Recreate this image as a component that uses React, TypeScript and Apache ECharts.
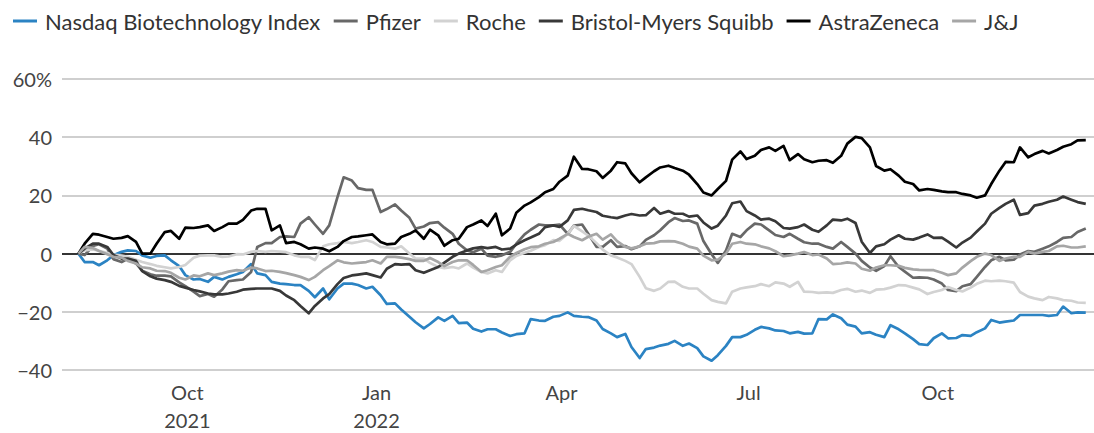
import React, { useEffect, useRef } from "react";
import * as echarts from "echarts";

// Weekly readings: Mondays, plus a mid-week reading on Thursdays
const mondays = [
  "2021-08-09", "2021-08-16", "2021-08-23", "2021-08-30", "2021-09-06", "2021-09-13", "2021-09-20", "2021-09-27",
  "2021-10-04", "2021-10-11", "2021-10-18", "2021-10-25", "2021-11-01", "2021-11-08", "2021-11-15", "2021-11-22",
  "2021-11-29", "2021-12-06", "2021-12-13", "2021-12-20", "2021-12-27", "2022-01-03", "2022-01-10", "2022-01-17",
  "2022-01-24", "2022-01-31", "2022-02-07", "2022-02-14", "2022-02-21", "2022-02-28", "2022-03-07", "2022-03-14",
  "2022-03-21", "2022-03-28", "2022-04-04", "2022-04-11", "2022-04-18", "2022-04-25", "2022-05-02", "2022-05-09",
  "2022-05-16", "2022-05-23", "2022-05-30", "2022-06-06", "2022-06-13", "2022-06-20", "2022-06-27", "2022-07-04",
  "2022-07-11", "2022-07-18", "2022-07-25", "2022-08-01", "2022-08-08", "2022-08-15", "2022-08-22", "2022-08-29",
  "2022-09-05", "2022-09-12", "2022-09-19", "2022-09-26", "2022-10-03", "2022-10-10", "2022-10-17", "2022-10-24",
  "2022-10-31", "2022-11-07", "2022-11-14", "2022-11-21", "2022-11-28", "2022-12-05", "2022-12-12",
];
const thursdays = [
  "2021-08-12", "2021-08-19", "2021-08-26", "2021-09-02", "2021-09-09", "2021-09-16", "2021-09-23", "2021-09-30",
  "2021-10-07", "2021-10-14", "2021-10-21", "2021-10-28", "2021-11-04", "2021-11-11", "2021-11-18", "2021-11-25",
  "2021-12-02", "2021-12-09", "2021-12-16", "2021-12-23", "2021-12-30", "2022-01-06", "2022-01-13", "2022-01-20",
  "2022-01-27", "2022-02-03", "2022-02-10", "2022-02-17", "2022-02-24", "2022-03-03", "2022-03-10", "2022-03-17",
  "2022-03-24", "2022-03-31", "2022-04-07", "2022-04-14", "2022-04-21", "2022-04-28", "2022-05-05", "2022-05-12",
  "2022-05-19", "2022-05-26", "2022-06-02", "2022-06-09", "2022-06-16", "2022-06-23", "2022-06-30", "2022-07-07",
  "2022-07-14", "2022-07-21", "2022-07-28", "2022-08-04", "2022-08-11", "2022-08-18", "2022-08-25", "2022-09-01",
  "2022-09-08", "2022-09-15", "2022-09-22", "2022-09-29", "2022-10-06", "2022-10-13", "2022-10-20", "2022-10-27",
  "2022-11-03", "2022-11-10", "2022-11-17", "2022-11-24", "2022-12-01", "2022-12-08",
];

const nasdaqBiotechMon = [
  0, -2.9, -2.3, 0.6, 0.9, -1.4, -0.6, -4.3, -8.9, -9.7, -8.9, -7.1, -3.6, -7.4, -10.3, -10.8,
  -12.8, -12, -12, -10.3, -12, -14.3, -17.1, -21.7, -25.7, -21.9, -21.4, -23.7, -26.8, -26, -28.3, -27.4,
  -23, -21.7, -20.2, -21.7, -23, -27.4, -27.6, -35.9, -32.3, -31, -31.7, -32.5, -36.8, -31.7, -28.7, -26.2,
  -25.7, -26.6, -26.9, -27.4, -22.6, -22.2, -25.1, -27, -28.7, -26, -29.4, -31.4, -27.4, -29, -28.3, -25.7,
  -23.7, -23, -21.1, -21.1, -21.1, -20.5, -20.3,
];
const nasdaqBiotechThu = [
  -2.9, -4, -0.6, 1.1, -0.6, -0.8, -2.3, -7.4, -8.7, -8, -8, -6.3, -6.8, -9.7, -10.5, -10.8, -15,
  -15.7, -10.3, -10.8, -11.4, -17.3, -19.2, -23.6, -24.2, -23.1, -23.9, -25.8, -26, -27.1, -27.7, -22.5, -23.1, -21.4, -21.4,
  -21.8, -25.9, -28.7, -32.1, -32.8, -31.6, -30, -30.9, -35.3, -34.9, -28.7, -27.9, -25.2, -26.4, -27.4, -27.5, -22.5, -20.9,
  -24.4, -27.4, -27.9, -24.6, -27.4, -31.1, -29.1, -29.1, -28, -27, -22.8, -23.4, -21.1, -21.1, -21.4, -18.2, -20.2,
];

const pfizerMon = [
  0, 2.6, 1.7, -2.9, -3.4, -7.1, -7.6, -9.9, -13.1, -13.9, -12.3, -9.1, -6.3, 3.6, 5.7, 5.7,
  12.5, 6.8, 19.4, 25.1, 21.9, 14.3, 16.9, 12.3, 9.3, 10.8, 6.8, 1.1, 1.7, -1.1, 0.6, 6.6,
  10, 9.7, 6.8, 10, 2.3, 4.6, 2.6, 2.5, 6.3, 10.8, 11.2, 10.3, -0.2, 1.1, 5.7, 10.3,
  8, 5.7, 5.1, 3.4, 2.3, 4, 0, -4.8, -4.3, -4.6, -8.3, -8.3, -10.3, -12.9, -10.5, -4.6,
  -1.1, -2.1, 0.9, 1.7, 4, 5.7, 8.6,
];
const pfizerThu = [
  -0.5, 3.2, -1.9, -1.8, -5.9, -7.6, -7.8, -11.2, -14.6, -14.8, -9.5, -8.9, 2.3, 3.6, 5.9, 10.3, 10,
  9.7, 26.2, 22.5, 21.9, 15.3, 14.8, 8.6, 10.5, 8.9, 3.4, 0.5, -0.7, -0.6, 3.4, 8.2, 9.7, 10, 9.6,
  6.8, 2.3, 2.3, 1.5, 4.7, 8, 12.2, 11.4, 4.3, -3.2, 6.8, 8, 10, 6.4, 6.8, 3.9, 3.4, 1.7,
  2.3, -2.5, -5.9, -0.9, -6.2, -8.2, -8.9, -12.5, -11.2, -8, -2.3, -2.3, -0.3, 0.6, 2.5, 5.4, 7.4,
];

const rocheMon = [
  0, 1.4, 0.2, -0.7, -2.1, -3.6, -4.7, -4.6, -1.4, -0.6, -1.1, -0.2, 0.6, 0.6, 0.7, -0.6,
  -1.1, 2.5, 3.6, 3.6, 4.6, 2.3, 1.7, 0, -1.7, -4.6, -4.6, -3.4, -6.3, -5.7, -2.3, 0.3,
  2.3, 4.6, 6.8, 7.6, 3.6, -0.6, -2.5, -8, -12.8, -9.7, -11.4, -12, -16, -17.1, -12, -11.2,
  -11.2, -10.3, -9.7, -13.2, -13.3, -12.5, -13.1, -13.5, -12.2, -10.8, -11.7, -13.9, -12.5, -12.5, -11.7, -9.3,
  -9.3, -10, -14.8, -16, -15.4, -16.2, -16.9,
];
const rocheThu = [
  1.1, 1, -0.3, -1.1, -2.9, -4.2, -5.1, -3.9, -0.7, -0.6, -1, -0.3, 0.9, 0.9, 0.5, -1.1, -2.2,
  3.2, 4, 4, 4, 2.1, 2.5, -1.7, -3.2, -5, -5.1, -4.8, -6.8, -6.3, -0.8, 1, 2.9, 4.4, 9.5,
  6.2, 1.4, -1.3, -3.6, -11.9, -12, -9.6, -12, -13.8, -16.6, -13.1, -11.6, -10.5, -9.9, -11.4, -13.1, -13.5, -13.5,
  -12.1, -12.7, -12.4, -11.7, -10.9, -12.3, -13.2, -11.5, -13, -10.4, -9.5, -9.5, -13.2, -15.4, -14.9, -16, -16.8,
];

const bristolMyersMon = [
  0, 3.4, 2.3, -1.7, -2.5, -7.8, -9.1, -11.1, -12.5, -13.7, -14, -13.1, -12.1, -12, -12.8, -16,
  -20.5, -15.4, -10.5, -7.5, -6.8, -8.2, -3.6, -3.6, -6.6, -4.6, -1.1, 1.1, 2.2, 2.3, 1.7, 4.6,
  6.8, 9.7, 11.4, 15.4, 14.3, 12.5, 13.1, 13.1, 15.7, 14.6, 13.7, 13.1, 8.6, 13.1, 17.9, 13.1,
  12, 8.8, 9.1, 8.2, 9.7, 11.4, 10.5, 0.2, 3.2, 6.3, 4.8, 6.6, 5.5, 2.1, 5.5, 10.3,
  15.7, 18.5, 13.9, 17.1, 18.5, 18.5, 17.1,
];
const bristolMyersThu = [
  1.7, 3.4, -0.5, -1.7, -6, -8.6, -9.7, -11.7, -13, -14, -13.7, -12.4, -12, -12, -14.4, -18, -18,
  -13.9, -8.4, -7.2, -7.4, -5.2, -3.8, -5.7, -5.7, -3.1, 0, 1.8, 1.9, 1.4, 3.1, 5.5, 9.1, 9.2, 15,
  14.9, 13, 12.2, 13.6, 13.2, 13.7, 13.7, 12.7, 10.7, 9.6, 17.3, 14.6, 11.7, 11.1, 8.6, 10, 7.5, 11.7,
  12, 4.1, 2.5, 4.8, 5.1, 5.5, 5.4, 4.1, 3.8, 7.6, 13.7, 17.1, 13.3, 16.5, 17.8, 19.6, 17.7,
];

const astraZenecaMon = [
  0, 6.8, 5.7, 5.4, 4, 0, 7.4, 5.1, 8.8, 9.7, 9.1, 10.3, 14.8, 15.4, 9.7, 4,
  1.7, 1.7, 2.3, 5.7, 6.3, 4, 3.4, 6.8, 5.1, 6.3, 4.6, 9.1, 11.4, 13.7, 8.6, 16.5,
  19.4, 22.2, 26.8, 29.1, 28.3, 28.5, 31, 24.5, 28.3, 30.2, 28.5, 23.9, 20, 25, 35.1, 33.6,
  36.5, 37, 34.2, 31.4, 32.1, 33.6, 40.1, 36.5, 28.5, 26.8, 23.9, 22.2, 21.4, 21.1, 20, 20,
  28.5, 31.4, 33.1, 35.3, 35.6, 37.6, 39,
];
const astraZenecaThu = [
  3.4, 6.5, 5.1, 6, 0, 3.4, 7.8, 8.9, 9.1, 7.8, 10.3, 11.6, 15.4, 8, 3.6, 3.2, 2.1,
  0.8, 4.3, 5.9, 6.6, 3.2, 5.7, 8, 8.2, 2.7, 5.1, 10, 9.5, 6.3, 14, 17.6, 21.1, 24.7, 33.3,
  29, 26, 31.4, 27.6, 26.2, 29.6, 29.4, 27.1, 21, 22.2, 32.3, 32.5, 35.6, 35.3, 32.1, 32.4, 31.9, 31.2,
  37.8, 39.7, 30.1, 29, 24.7, 21.7, 21.9, 21.1, 20.5, 19.2, 23.9, 31.5, 36.5, 34.2, 34.4, 36.7, 38.9,
];

const jnjMon = [
  0, 1.9, -0.2, -1.4, -3.4, -5.1, -6, -8.3, -7.5, -6.8, -6.8, -5.7, -4.8, -6, -6.3, -7.4,
  -9.1, -5.7, -2.3, -3.4, -2.9, -3.4, -1.1, -1.9, -2.5, -2.9, -2.9, -2.3, -6.3, -4.6, -1.1, 1.5,
  2.5, 4, 6.8, 4.6, 6.8, 6.6, 2.3, 2.5, 3.6, 4.3, 3.4, 1.7, -2.3, 0, 4, 3.2,
  1.8, -0.9, 0, -0.5, -1.7, -3.4, -3.4, -5.9, -4, -4.2, -5.4, -5.7, -6.6, -6.8, -2.6, 0,
  -2.5, -1.1, 0.6, 0.6, 2.5, 2.1, 2.5,
];
const jnjThu = [
  2.3, 0.9, -1.1, -2.5, -4.7, -5.9, -6.6, -8.9, -7.8, -7.4, -6.2, -5.9, -5.1, -5.9, -6.7, -8, -8,
  -4.3, -3, -3.2, -2.3, -1.1, -1.4, -2.5, -1.5, -4.3, -2.3, -3.9, -5.7, -4, 0.2, 2.2, 3.4, 5.1, 5.7,
  5.8, 4.8, 4.3, 1.8, 3.4, 4.2, 4.2, 2.4, -0.7, -2.1, 3.4, 3.4, 2.5, 0.8, -0.6, 0.5, -0.3, -3.6,
  -3, -5.2, -4.8, -4, -4.9, -5.6, -5.7, -7.4, -4.8, -1.1, -0.5, -1.7, -1.1, 0, 0.9, 2.7, 2.1,
];

const seriesNames = ["Nasdaq Biotechnology Index", "Pfizer", "Roche", "Bristol-Myers Squibb", "AstraZeneca", "J&J"];
const seriesMon = [nasdaqBiotechMon, pfizerMon, rocheMon, bristolMyersMon, astraZenecaMon, jnjMon];
const seriesThu = [nasdaqBiotechThu, pfizerThu, rocheThu, bristolMyersThu, astraZenecaThu, jnjThu];
const seriesColors = ["#2b83c3", "#686868", "#d2d2d2", "#383838", "#000000", "#a6a6a6"];

const yTicks = [-40, -20, 0, 20, 40, 60];
const xLabelDates = ["2021-10-01", "2022-01-01", "2022-04-01", "2022-07-01", "2022-10-01"];
const xLabelMonths = ["Oct", "Jan", "Apr", "Jul", "Oct"];
const xLabelYears = ["2021", "2022", "", "", ""];

const FONT = "Lato";
const ts = (d: string) => new Date(d + "T00:00:00Z").getTime();

export default function App() {
  const ref = useRef<HTMLDivElement>(null);
  useEffect(() => {
    if (!ref.current) return;
    const chart = echarts.init(ref.current, null, { renderer: "svg" });
    const labelTs = xLabelDates.map(ts);
    const series: any[] = seriesNames.map((name, i) => {
      const pts: [number, number][] = [];
      mondays.forEach((d, j) => pts.push([ts(d), seriesMon[i][j]]));
      thursdays.forEach((d, j) => pts.push([ts(d), seriesThu[i][j]]));
      pts.sort((a, b) => a[0] - b[0]);
      return {
        name,
        type: "line",
        data: pts,
        showSymbol: false,
        symbol: "none",
        lineStyle: { color: seriesColors[i], width: 2.7, join: "round" },
        itemStyle: { color: seriesColors[i] },
        z: 3,
      };
    });
    series[0].markLine = {
      silent: true,
      symbol: "none",
      label: { show: false },
      lineStyle: { color: "#000", width: 1.5, type: "solid" },
      data: [{ yAxis: 0 }],
      z: 2,
    };
    chart.setOption({
      animation: false,
      legend: {
        left: 8,
        top: 5,
        icon: "rect",
        itemWidth: 24,
        itemHeight: 3,
        itemGap: 13,
        textStyle: { fontFamily: FONT, fontSize: 22, color: "#333", padding: [0, 0, 0, 3] },
        data: seriesNames,
      },
      grid: { left: 62, right: 0, top: 79, bottom: 63, containLabel: false, outerBoundsMode: "none" },
      xAxis: {
        type: "value",
        min: ts("2021-08-01"),
        max: ts("2022-12-16"),
        axisLine: { show: false },
        axisTick: { show: false },
        splitLine: { show: false },
        axisLabel: {
          customValues: labelTs,
          margin: 4,
          fontFamily: FONT,
          fontSize: 20,
          color: "#444",
          rich: {
            m: { fontFamily: FONT, fontSize: 20, color: "#444", lineHeight: 36 },
            y: { fontFamily: FONT, fontSize: 20, color: "#444", lineHeight: 20 },
          },
          formatter: (v: number) => {
            const idx = labelTs.findIndex((t) => Math.abs(t - v) < 86400000);
            if (idx < 0) return "";
            const yr = xLabelYears[idx];
            return yr ? `{m|${xLabelMonths[idx]}}\n{y|${yr}}` : `{m|${xLabelMonths[idx]}}`;
          },
        },
      },
      yAxis: {
        type: "value",
        min: -40,
        max: 60,
        interval: 20,
        axisLine: { show: false },
        axisTick: { show: false },
        splitLine: { show: true, lineStyle: { color: "#cfcfcf", width: 1.8 } },
        axisLabel: {
          margin: 10,
          fontFamily: FONT,
          fontSize: 20,
          color: "#444",
          formatter: (v: number) => {
            if (!yTicks.includes(v)) return "";
            if (v === 60) return "60%";
            if (v < 0) return "\u2212" + Math.abs(v);
            return String(v);
          },
        },
      },
      series,
    });
    return () => chart.dispose();
  }, []);
  return <div ref={ref} style={{ position: "absolute", left: 0, top: 0, width: 1094, height: 433 }} />;
}
